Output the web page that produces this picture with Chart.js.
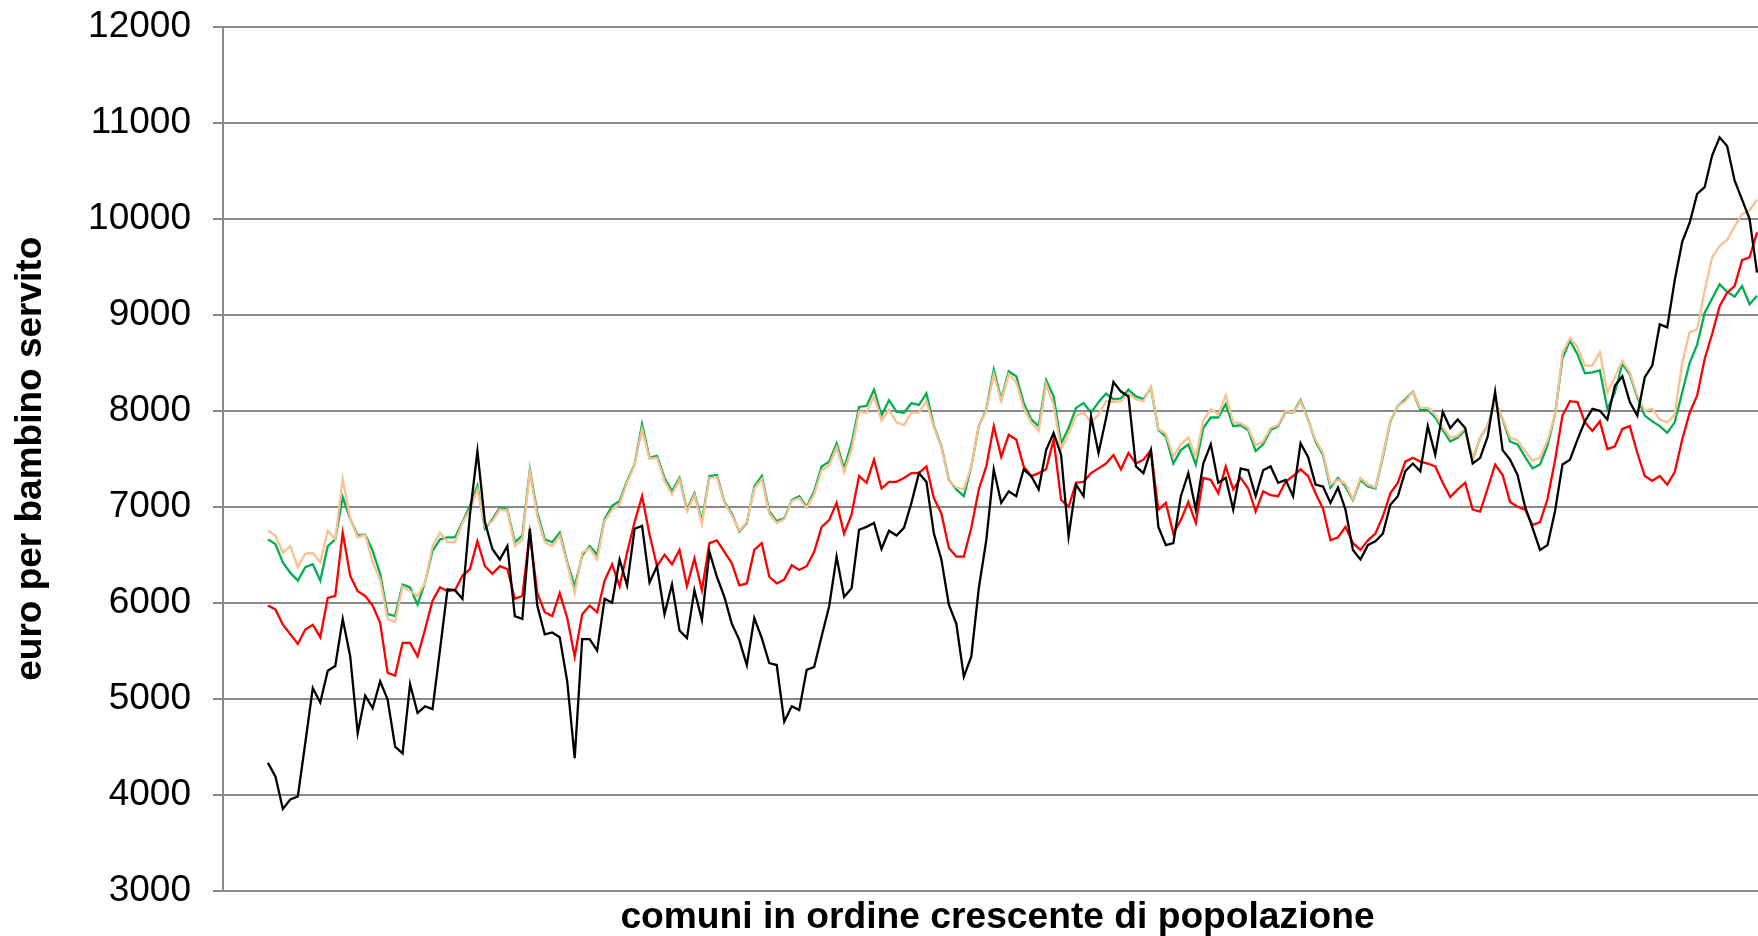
<!DOCTYPE html>
<html>
<head>
<meta charset="utf-8">
<script src="https://cdn.jsdelivr.net/npm/chart.js@4.4.1/dist/chart.umd.min.js"></script>
<style>
  html, body { margin: 0; padding: 0; background: #ffffff; overflow: hidden; }
  #wrap { width: 1758px; height: 936px; position: relative; overflow: hidden; }
  #c { position: absolute; left: 0; top: 0; }
</style>
</head>
<body>
<div id="wrap"><canvas id="c" width="1772" height="936"></canvas></div>
<script>
// Moving averages per comune (the first comuni have no value yet; the last ones fall outside the picture)
const serieNera = [null,null,null,null,null,null,
4330,4190,3850,3950,3980,4540,5110,4960,5290,5340,5830,5440,4640,5030,4900,5180,4990,4500,4430,5150,4850,4920,4890,5510,
6140,6130,6040,6920,7580,6840,6560,6450,6590,5860,5830,6770,5970,5670,5690,5640,5180,4380,5620,5620,5500,6040,6000,6450,
6180,6770,6800,6210,6380,5880,6190,5710,5630,6130,5820,6530,6270,6060,5780,5610,5350,5840,5630,5370,5350,4760,4920,4880,
5300,5330,5650,5960,6480,6060,6150,6760,6790,6830,6560,6750,6700,6780,7040,7350,7260,6720,6450,5980,5780,5230,5440,6150,
6650,7390,7040,7160,7110,7390,7320,7180,7590,7770,7540,6690,7230,7110,7940,7560,7920,8300,8200,8150,7420,7350,7590,6790,
6600,6620,7110,7350,6970,7450,7650,7250,7300,6970,7400,7380,7110,7380,7420,7250,7280,7110,7660,7520,7230,7210,7040,7200,
6970,6550,6450,6600,6640,6720,7020,7110,7370,7450,7370,7840,7540,7990,7820,7910,7820,7450,7510,7730,8200,7590,7490,7330,
7000,6780,6550,6600,6950,7440,7490,7700,7890,8020,8000,7910,8260,8360,8090,7950,8350,8470,8900,8870,9360,9760,9960,10260,
10330,10660,10850,10760,10400,10200,10000,9440,null,null];

const serieRossa = [null,null,null,null,null,null,
5970,5930,5770,5670,5570,5720,5770,5640,6050,6070,6730,6280,6120,6070,5970,5790,5270,5240,5580,5580,5440,5720,6020,6160,
6120,6130,6280,6350,6640,6380,6300,6380,6350,6040,6070,6730,6100,5900,5860,6100,5840,5440,5880,5970,5900,6230,6400,6170,
6520,6840,7110,6710,6380,6500,6400,6550,6170,6460,6130,6620,6650,6530,6410,6180,6200,6550,6620,6270,6200,6240,6390,6340,
6380,6530,6790,6860,7040,6720,6920,7320,7250,7490,7190,7260,7260,7300,7350,7350,7420,7090,6930,6570,6480,6480,6780,7180,
7420,7840,7520,7750,7700,7420,7320,7350,7390,7700,7070,7000,7250,7260,7350,7400,7450,7540,7390,7560,7450,7490,7590,6970,
7040,6720,6860,7050,6830,7300,7280,7140,7420,7180,7300,7190,6950,7160,7120,7110,7260,7320,7390,7320,7140,6980,6650,6680,
6790,6620,6550,6650,6720,6900,7140,7250,7470,7510,7470,7450,7420,7250,7100,7180,7250,6970,6950,7190,7440,7330,7050,7000,
6970,6810,6840,7080,7480,7950,8100,8090,7880,7790,7890,7600,7630,7810,7840,7560,7320,7270,7320,7230,7360,7700,7980,8160,
8540,8800,9090,9230,9300,9570,9600,9860,null,null];

const serieVerde = [null,null,null,null,null,null,
6660,6610,6420,6310,6230,6370,6400,6230,6590,6660,7100,6870,6700,6710,6540,6300,5880,5860,6190,6160,5980,6210,6540,6660,
6680,6680,6840,7010,7220,6770,6870,6990,6970,6630,6700,7390,6940,6660,6630,6730,6420,6170,6490,6590,6500,6870,7010,7060,
7270,7440,7860,7510,7530,7300,7160,7300,6970,7140,6850,7320,7330,7050,6930,6740,6830,7210,7320,6950,6850,6880,7070,7110,
7000,7160,7420,7470,7660,7400,7660,8040,8050,8220,7950,8110,7990,7980,8080,8060,8180,7840,7630,7280,7180,7110,7420,7840,
8010,8430,8120,8410,8360,8080,7910,7840,8320,8150,7660,7820,8030,8080,7980,8090,8180,8120,8130,8220,8150,8120,8240,7800,
7730,7450,7590,7650,7440,7820,7930,7930,8070,7840,7850,7800,7580,7650,7800,7840,7990,7980,8110,7910,7680,7540,7200,7300,
7210,7070,7280,7210,7190,7520,7890,8050,8120,8200,8010,8010,7930,7800,7680,7720,7800,7490,7720,7840,8100,7910,7680,7650,
7520,7400,7440,7640,7960,8550,8730,8590,8390,8400,8420,8020,8190,8490,8380,8140,7950,7890,7840,7770,7880,8190,8500,8690,
9020,9170,9320,9240,9190,9300,9110,9200,null,null];

const serieArancio = [null,null,null,null,null,null,
6750,6700,6520,6590,6370,6510,6520,6420,6750,6660,7290,6870,6680,6710,6420,6240,5830,5800,6170,6120,6070,6210,6590,6730,
6630,6630,6830,6970,7180,6800,6850,6970,6960,6590,6660,7370,6900,6630,6590,6700,6400,6100,6520,6570,6450,6850,6970,7030,
7250,7430,7810,7500,7510,7270,7130,7280,6950,7120,6820,7300,7310,7040,6910,6750,6840,7190,7290,6930,6830,6870,7060,7090,
6990,7130,7380,7430,7620,7360,7600,7990,7980,8150,7900,8010,7880,7850,7980,7980,8100,7830,7620,7270,7200,7180,7420,7840,
8000,8380,8100,8380,8300,8030,7880,7790,8280,8060,7600,7760,7950,7980,7880,7960,8100,8090,8100,8180,8120,8100,8250,7810,
7760,7520,7650,7720,7520,7900,8020,7960,8160,7880,7870,7820,7640,7680,7820,7850,8000,7980,8100,7900,7700,7560,7230,7280,
7240,7080,7300,7230,7200,7540,7900,8050,8100,8200,8030,8030,7960,7830,7720,7740,7820,7500,7720,7840,8090,7920,7720,7690,
7580,7480,7510,7690,7950,8600,8760,8660,8470,8470,8610,8190,8350,8520,8400,8160,8000,8020,7910,7880,7960,8500,8820,8850,
9250,9600,9720,9780,9920,10050,10090,10200,null,null];

const comuni = serieNera.map((_, i) => String(i + 1));
const yTicks = [3000, 4000, 5000, 6000, 7000, 8000, 9000, 10000, 11000, 12000];

const FONT = "'Liberation Sans', Arial, sans-serif";
const GRID = '#898989';

const ds = (data, color) => ({
  data, borderColor: color, backgroundColor: color, borderWidth: 2.3,
  pointRadius: 0, pointHoverRadius: 0, tension: 0, fill: false, spanGaps: false
});

new Chart(document.getElementById('c'), {
  type: 'line',
  data: {
    labels: comuni,
    datasets: [
      ds(serieNera, '#000000'),
      ds(serieRossa, '#FF0000'),
      ds(serieArancio, '#FAC090'),
      ds(serieVerde, '#00B050')
    ]
  },
  options: {
    responsive: false,
    animation: false,
    devicePixelRatio: 1,
    layout: { padding: { top: 27, right: 0, bottom: 0, left: 0 } },
    plugins: { legend: { display: false }, tooltip: { enabled: false } },
    scales: {
      x: {
        type: 'category',
        offset: false,
        grid: { display: false },
        border: { display: false },
        ticks: { display: false },
        title: {
          display: true,
          text: 'comuni in ordine crescente di popolazione',
          color: '#000000',
          font: { family: FONT, size: 37.2, weight: 'bold', lineHeight: 1 },
          padding: { top: 0, bottom: 0 }
        },
        afterFit: (s) => { s.height = 45.5; s.paddingLeft = 0; s.paddingRight = 0; }
      },
      y: {
        min: 3000,
        max: 12000,
        afterBuildTicks: (s) => { s.ticks = yTicks.map(v => ({ value: v })); },
        ticks: {
          color: '#000000',
          font: { family: FONT, size: 37 },
          padding: 22,
          callback: (v) => String(v)
        },
        grid: { color: GRID, lineWidth: 2, tickLength: 10, drawTicks: true },
        border: { display: true, color: GRID, width: 2 },
        title: {
          display: true,
          text: 'euro per bambino servito',
          color: '#000000',
          font: { family: FONT, size: 37, weight: 'bold', lineHeight: 1 },
          padding: { top: 12, bottom: 0 }
        },
        afterFit: (s) => { s.width = 223; s.paddingTop = 0; s.paddingBottom = 0; }
      }
    }
  }
});
</script>
</body>
</html>
